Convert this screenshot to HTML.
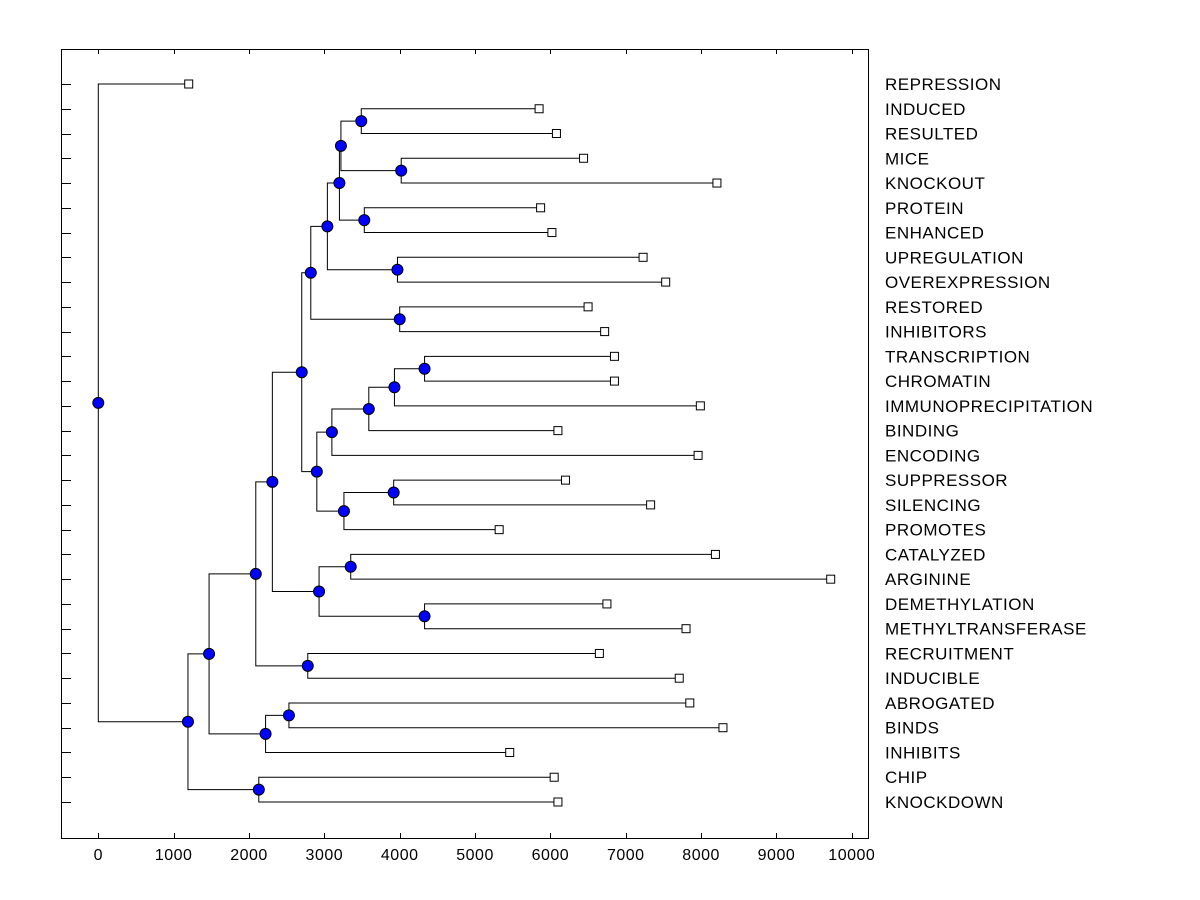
<!DOCTYPE html>
<html><head><meta charset="utf-8"><style>
body{margin:0;background:#fff;}
svg{display:block;font-family:"Liberation Sans",Arial,sans-serif;}
</style></head><body>
<svg id="chart" width="1200" height="900" xmlns="http://www.w3.org/2000/svg"></svg>
<script>
const leafLabels=["REPRESSION","INDUCED","RESULTED","MICE","KNOCKOUT","PROTEIN","ENHANCED","UPREGULATION","OVEREXPRESSION","RESTORED","INHIBITORS","TRANSCRIPTION","CHROMATIN","IMMUNOPRECIPITATION","BINDING","ENCODING","SUPPRESSOR","SILENCING","PROMOTES","CATALYZED","ARGININE","DEMETHYLATION","METHYLTRANSFERASE","RECRUITMENT","INDUCIBLE","ABROGATED","BINDS","INHIBITS","CHIP","KNOCKDOWN"];
const leafValues=[1200,5850,6080,6440,8210,5870,6020,7230,7530,6500,6720,6850,6850,7990,6100,7960,6200,7330,5320,8190,9720,6750,7800,6650,7710,7850,8290,5460,6050,6100];
// merges: internal node ids start at 30
const mergeLeft =[1,3,30,5,32,7,34,9,36,11,39,40,41,16,43,42,38,19,21,47,46,23,50,25,53,52,28,55,0];
const mergeRight=[2,4,31,6,33,8,35,10,37,12,13,14,15,17,18,44,45,20,22,48,49,24,51,26,27,54,29,56,57];
const mergeValues=[3490,4020,3220,3530,3200,3970,3040,4000,2820,4330,3930,3590,3100,3920,3260,2900,2700,3350,4330,2930,2310,2780,2090,2530,2220,1470,2130,1190,0];
const xTicks=[0,1000,2000,3000,4000,5000,6000,7000,8000,9000,10000];

const NS="http://www.w3.org/2000/svg";
const svg=document.getElementById('chart');
const L=61,R=868,T=49,B=838;
const xs=v=>98.3+v*0.07535;
const y0=84,dy=(802-84)/29;
const ys=i=>y0+i*dy;
function mk(tag,attrs,parent){const e=document.createElementNS(NS,tag);for(const k in attrs)e.setAttribute(k,attrs[k]);(parent||svg).appendChild(e);return e;}
const frame=mk('rect',{x:L+0.5,y:T+0.5,width:R-L,height:B-T,fill:'none',stroke:'#000','stroke-width':1});


xTicks.forEach(t=>{
  const x=Math.round(xs(t))+0.5;
  const tk=mk('path',{d:`M${x},${B}V${B-5}M${x},${T}V${T+5}`,stroke:'#000','stroke-width':1});
  
  
  const tx=mk('text',{x:xs(t),y:B+22,'text-anchor':'middle','font-size':'16px','letter-spacing':'0.5px',fill:'#000'});
  tx.textContent=t;
  
  
});
const pos={};
leafLabels.forEach((lab,i)=>{
  pos[i]={x:xs(leafValues[i]),y:ys(i)};
  const y=Math.round(ys(i))+0.5;
  const tk=mk('path',{d:`M${L},${y}H${L+10}`,stroke:'#000'});
  
  
  const t=mk('text',{x:885,y:ys(i)+6,'font-size':'17px','letter-spacing':'0.5px',fill:'#000'});
  t.textContent=lab;
  
  
});
const g=mk('g',{});
const nodes=[];
mergeLeft.forEach((a,k)=>{
  const b=mergeRight[k],x=xs(mergeValues[k]);
  const pa=pos[a],pb=pos[b];
  const y=(pa.y+pb.y)/2;
  pos[30+k]={x:x,y:y};
  const p=mk('path',{d:`M${pa.x},${pa.y}H${x}V${pb.y}H${pb.x}`,fill:'none',stroke:'#000','stroke-width':1},g);
  
  
  nodes.push({x:x,y:y});
});
leafLabels.forEach((lab,i)=>{
  const r=mk('rect',{x:pos[i].x-4,y:pos[i].y-4,width:8,height:8,fill:'#fff',stroke:'#000'});
  
  
});
nodes.forEach(n=>{
  const c=mk('circle',{cx:n.x,cy:n.y,r:5.5,fill:'#0000ff',stroke:'#000','stroke-width':1});
  
  
});
</script>
</body></html>
